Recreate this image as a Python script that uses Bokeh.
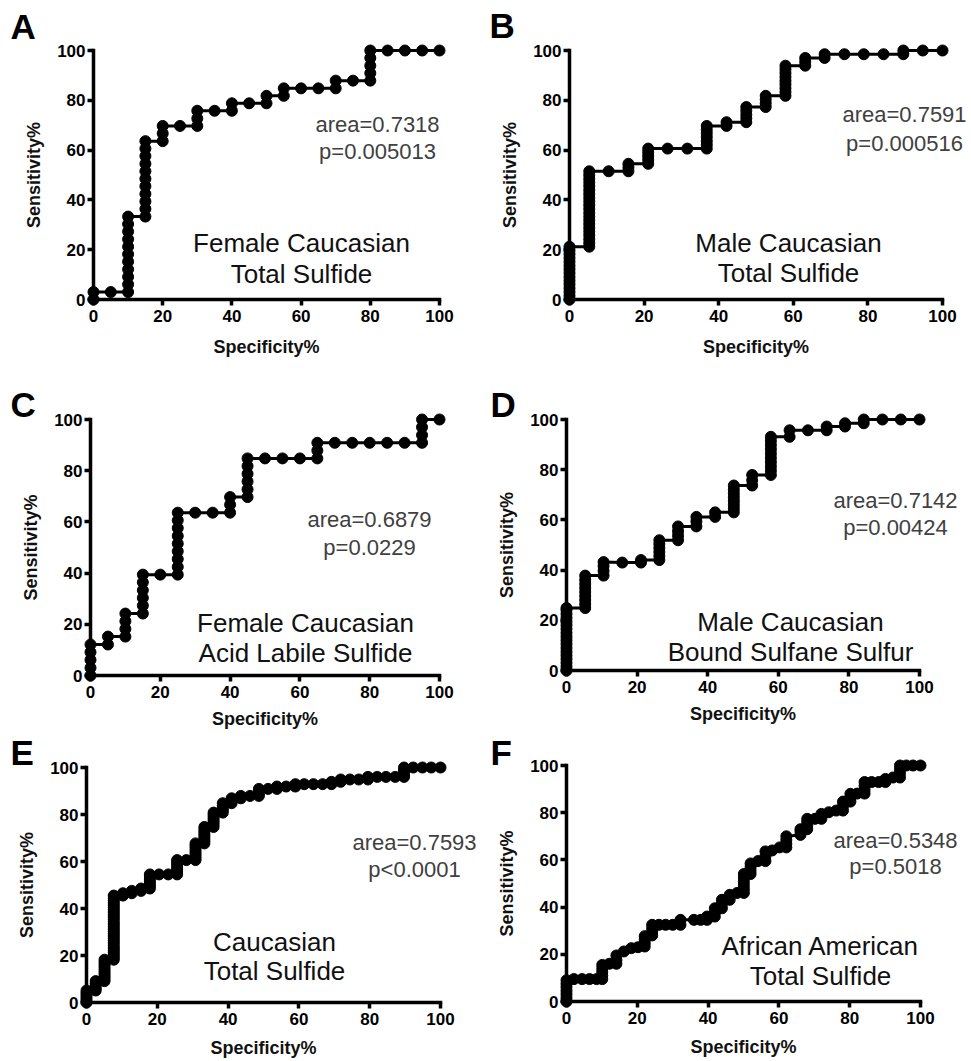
from bokeh.plotting import figure
from bokeh.models import Range1d, LinearAxis, Label, FixedTicker
from bokeh.layouts import column, row
from bokeh.embed import file_html
from bokeh.resources import INLINE

# ---------------- data (Specificity%, Sensitivity%) ----------------
a_spec = [0, 0, 5, 10, 10, 10, 10, 10, 10, 10, 10, 10, 10, 10,
          15, 15, 15, 15, 15, 15, 15, 15, 15, 15, 15, 20, 20, 20, 25,
          30, 30, 30, 35, 40, 40, 45, 50, 50, 55, 55, 60, 65, 70, 70, 75,
          80, 80, 80, 80, 80, 85, 90, 95, 100]
a_sens = [0, 3.0, 3.0, 3.0, 6.1, 9.1, 12.1, 15.2, 18.2, 21.2, 24.2, 27.3, 30.3, 33.3,
          33.3, 36.4, 39.4, 42.4, 45.5, 48.5, 51.5, 54.5, 57.6, 60.6, 63.6, 63.6, 66.7, 69.7, 69.7,
          69.7, 72.7, 75.8, 75.8, 75.8, 78.8, 78.8, 78.8, 81.8, 81.8, 84.8, 84.8, 84.8, 84.8, 87.9, 87.9,
          87.9, 90.9, 93.9, 97.0, 100, 100, 100, 100, 100]

b_spec = [0] * 15 + [5.3] * 21 + [10.5] + [15.8] * 3 + [21.1] * 5 + [26.3, 31.6] + [36.8] * 7 + \
         [42.1] * 2 + [47.4] * 5 + [52.6] * 4 + [57.9] * 9 + [63.2] * 3 + [68.4] * 2 + \
         [73.7, 78.9, 84.2] + [89.5] * 2 + [94.7, 100]
b_sens = [0, 1.5, 3.0, 4.5, 6.1, 7.6, 9.1, 10.6, 12.1, 13.6, 15.2, 16.7, 18.2, 19.7, 21.2,
          21.2, 22.7, 24.2, 25.8, 27.3, 28.8, 30.3, 31.8, 33.3, 34.8, 36.4, 37.9, 39.4, 40.9, 42.4,
          43.9, 45.5, 47.0, 48.5, 50.0, 51.5,
          51.5,
          51.5, 53.0, 54.5,
          54.5, 56.1, 57.6, 59.1, 60.6,
          60.6, 60.6,
          60.6, 62.1, 63.6, 65.2, 66.7, 68.2, 69.7,
          69.7, 71.2,
          71.2, 72.7, 74.2, 75.8, 77.3,
          77.3, 78.8, 80.3, 81.8,
          81.8, 83.3, 84.8, 86.4, 87.9, 89.4, 90.9, 92.4, 93.9,
          93.9, 95.5, 97.0,
          97.0, 98.5,
          98.5, 98.5, 98.5,
          98.5, 100,
          100, 100]

c_spec = [0] * 5 + [5] * 2 + [10] * 4 + [15] * 6 + [20] + [25] * 9 + [30, 35] + [40] * 3 + \
         [45] * 6 + [50, 55, 60] + [65] * 3 + [70, 75, 80, 85, 90] + [95] * 4 + [100]
c_sens = [0, 3.0, 6.1, 9.1, 12.1,
          12.1, 15.2,
          15.2, 18.2, 21.2, 24.2,
          24.2, 27.3, 30.3, 33.3, 36.4, 39.4,
          39.4,
          39.4, 42.4, 45.5, 48.5, 51.5, 54.5, 57.6, 60.6, 63.6,
          63.6, 63.6,
          63.6, 66.7, 69.7,
          69.7, 72.7, 75.8, 78.8, 81.8, 84.8,
          84.8, 84.8, 84.8,
          84.8, 87.9, 90.9,
          90.9, 90.9, 90.9, 90.9, 90.9,
          90.9, 93.9, 97.0, 100,
          100]

d_spec = [0] * 18 + [5.3] * 9 + [10.5] * 4 + [15.8] + [21.1] * 2 + [26.3] * 6 + [31.6] * 4 + \
         [36.8] * 3 + [42.1] * 2 + [47.4] * 8 + [52.6] * 3 + [57.9] * 10 + [63.2] * 2 + [68.4] + \
         [73.7] * 2 + [78.9] * 2 + [84.2] * 2 + [89.5, 94.7, 100]
d_sens = [0, 1.5, 3.0, 4.5, 6.0, 7.5, 9.0, 10.5, 12.0, 13.5, 15.0, 16.5, 18.0, 19.5, 21.0, 22.5, 24.0, 24.9,
          24.9, 26.5, 28.1, 29.7, 31.3, 32.9, 34.5, 36.1, 37.8,
          37.8, 39.7, 41.6, 43.2,
          43.0,
          43.0, 44.0,
          44.0, 45.6, 47.2, 48.8, 50.4, 51.9,
          51.9, 53.7, 55.5, 57.4,
          57.4, 59.4, 61.2,
          61.2, 63.0,
          63.0, 64.5, 66.0, 67.5, 69.0, 70.5, 72.1, 73.7,
          73.7, 75.8, 77.9,
          77.9, 79.6, 81.3, 83.0, 84.7, 86.4, 88.1, 89.8, 91.5, 93.1,
          93.1, 95.7,
          95.7,
          95.7, 97.2,
          97.2, 98.5,
          98.5, 100,
          100, 100, 100]

e_spec = [0] * 6 + [2.6] * 5 + [5.1] * 10 + [7.7] * 28 + [10.3] * 2 + [12.8] * 2 + [15.4] * 2 + \
         [17.9] * 7 + [20.5, 23.1] + [25.6] * 7 + [28.2] + [30.8] * 8 + [33.3] * 8 + [35.9] * 7 + \
         [38.5] * 5 + [41.0] * 3 + [43.6] * 2 + [46.2] + [48.7] * 4 + [51.3] + [53.8] * 2 + [56.4] + \
         [59.0] * 2 + [61.5, 64.1, 66.7] + [69.2] * 2 + [71.8] * 2 + [74.4, 76.9] + [79.5] * 2 + \
         [82.1, 84.6, 87.2] + [89.7] * 5 + [92.3, 94.9, 97.4, 100]
e_sens = [0, 1.0, 2.0, 3.0, 4.0, 5.1,
          5.1, 6.1, 7.1, 8.1, 9.1,
          9.1, 10.1, 11.1, 12.1, 13.1, 14.1, 15.2, 16.2, 17.2, 18.2,
          18.2, 19.2, 20.2, 21.2, 22.2, 23.2, 24.2, 25.3, 26.3, 27.3, 28.3, 29.3, 30.3, 31.3,
          32.3, 33.3, 34.3, 35.4, 36.4, 37.4, 38.4, 39.4, 40.4, 41.4, 42.4, 43.4, 44.4, 45.5,
          45.5, 46.5,
          46.5, 47.5,
          47.5, 48.5,
          48.5, 49.5, 50.5, 51.5, 52.5, 53.5, 54.5,
          54.5, 54.5,
          54.5, 55.6, 56.6, 57.6, 58.6, 59.6, 60.6,
          60.6,
          60.6, 61.6, 62.6, 63.6, 64.6, 65.7, 66.7, 67.7,
          67.7, 68.7, 69.7, 70.7, 71.7, 72.7, 73.7, 74.7,
          74.7, 75.8, 76.8, 77.8, 78.8, 79.8, 80.8,
          80.8, 81.8, 82.8, 83.8, 84.8,
          84.8, 85.9, 86.9,
          86.9, 87.9,
          87.9,
          87.9, 88.9, 89.9, 90.9,
          90.9,
          90.9, 91.9,
          91.9,
          91.9, 92.9,
          92.9, 92.9, 92.9,
          92.9, 93.9,
          93.9, 94.9,
          94.9, 94.9,
          94.9, 96.0,
          96.0, 96.0, 96.0,
          96.0, 97.0, 98.0, 99.0, 100,
          100, 100, 100, 100]

f_spec = [0] * 7 + [2.1, 4.4, 6.5, 8.5] + [10.1] * 5 + [12.1] + [14.1] * 3 + [16.2, 18.3, 20.2] + \
         [22.1] * 4 + [24.2] * 4 + [26.1, 28.0, 30.0] + [32.2] * 2 + [36.0, 37.9] + [39.7] * 2 + \
         [41.9] * 3 + [43.9] * 3 + [46.1] * 2 + [48.2] + [50.1] * 6 + [52.0] * 4 + [54.1] + \
         [56.2] * 3 + [58.1, 60.2] + [62.1] * 4 + [66.1] * 3 + [68.0] * 4 + [70.2] + [72.0] * 2 + \
         [74.1, 76.2] + [78.1] * 3 + [80.2] * 3 + [82.1] + [84.2] * 4 + [86.2, 88.2] + [90.1] * 2 + \
         [92.2] + [94.2] * 4 + [96.0, 97.9, 100]
f_sens = [0, 1.5, 3.0, 4.5, 6.0, 7.5, 9.0,
          9.5, 9.5, 9.5, 9.5,
          9.5, 11.0, 12.5, 14.0, 15.5,
          16.0,
          16.0, 17.5, 19.5,
          21.2, 22.6, 23.0,
          23.3, 24.8, 26.3, 27.7,
          28.0, 29.5, 31.0, 32.5,
          32.5, 32.5, 32.5,
          32.5, 34.6,
          34.6, 34.6,
          34.6, 36.0,
          36.0, 37.7, 39.5,
          39.5, 41.3, 43.1,
          43.1, 45.2,
          46.0,
          46.0, 47.6, 49.2, 50.8, 52.4, 54.0,
          54.0, 55.5, 57.0, 58.5,
          59.5,
          59.5, 61.5, 63.6,
          64.0, 65.3,
          65.3, 66.8, 68.4, 70.0,
          70.6, 72.0, 73.0,
          73.0, 74.5, 76.0, 77.4,
          77.4,
          77.4, 79.5,
          80.2, 80.9,
          80.9, 82.8, 84.7,
          84.7, 86.4, 88.0,
          88.1,
          88.1, 89.7, 91.4, 93.0,
          93.0, 93.0,
          93.0, 94.3,
          94.9,
          94.9, 96.6, 98.3, 100,
          100, 100, 100]

letters = ["A", "B", "C", "D", "E", "F"]
stat_area = ["area=0.7318", "area=0.7591", "area=0.6879", "area=0.7142", "area=0.7593", "area=0.5348"]
stat_p = ["p=0.005013", "p=0.000516", "p=0.0229", "p=0.00424", "p<0.0001", "p=0.5018"]
group_line1 = ["Female Caucasian", "Male Caucasian", "Female Caucasian", "Male Caucasian",
               "Caucasian", "African American"]
group_line2 = ["Total Sulfide", "Total Sulfide", "Acid Labile Sulfide", "Bound Sulfane Sulfur",
               "Total Sulfide", "Total Sulfide"]
x_ticks = [0, 20, 40, 60, 80, 100]
y_ticks = [0, 20, 40, 60, 80, 100]
x_label = "Specificity%"
y_label = "Sensitivity%"

# ---------------- layout geometry (page pixels) ----------------
COLS = [0, 480, 970]
ROWS = [0, 375, 733, 1060]
XLAB_STANDOFF = [12, 8, 10]
# pixel of x=0, x=100, y=0, y=100 for each panel
GEOM = [(93, 439, 299, 50), (569, 942, 299, 50),
        (90, 439, 675, 419), (566, 919, 670, 419),
        (86, 440, 1002, 767), (566, 920, 1001, 765)]
# annotation anchors in page pixels: letter (left, baseline), stats (center, baseline1, baseline2),
# group text (center, baseline1, baseline2)
LETTER_PX = [(10, 39), (489, 38), (10, 417), (490, 417), (10, 765), (490, 765)]
STAT_PX = [(377, 132, 159), (904, 122, 151), (369, 527, 555),
           (895, 508, 535), (414, 850, 877), (895, 848, 874)]
GROUP_PX = [(301, 252, 283), (788, 252, 282), (305, 632, 662),
            (790, 631, 661), (274, 951, 980), (820, 955, 985)]

SPECS = [a_spec, b_spec, c_spec, d_spec, e_spec, f_spec]
SENS = [a_sens, b_sens, c_sens, d_sens, e_sens, f_sens]

FONT = "Liberation Sans"
LETTER_SIZE, STAT_SIZE, GROUP_SIZE = 35, 22, 26
CAP = 0.716  # cap height / font size


def make_panel(i):
    ci, ri = i % 2, i // 2
    fx, W = COLS[ci], COLS[ci + 1] - COLS[ci]
    fy, H = ROWS[ri], ROWS[ri + 1] - ROWS[ri]
    x0, x100, y0, y100 = GEOM[i]
    sx = (x100 - x0) / 100.0
    sy = (y0 - y100) / 100.0

    def dx(px):
        return (px - x0) / sx

    def dy(py):
        return (y0 - py) / sy

    def mid(baseline, size):
        # vertical centre of capitals for a given baseline
        return dy(baseline - CAP * size / 2.0)

    p = figure(frame_width=W, frame_height=H,
               min_border_left=0, min_border_right=0,
               min_border_top=0, min_border_bottom=0,
               x_range=Range1d(dx(fx), dx(fx + W)),
               y_range=Range1d(dy(fy + H), dy(fy)),
               x_axis_type=None, y_axis_type=None,
               toolbar_location=None, output_backend="svg",
               outline_line_color=None, background_fill_color="white",
               border_fill_color="white")

    def style(ax, lab_standoff, tick_standoff):
        ax.axis_line_width = 3.5
        ax.axis_line_color = "black"
        ax.axis_line_cap = "square"
        ax.major_tick_line_width = 3.5
        ax.major_tick_line_color = "black"
        ax.major_tick_out = 6
        ax.major_tick_in = 0
        ax.minor_tick_line_color = None
        ax.major_label_text_font = FONT
        ax.major_label_text_font_style = "bold"
        ax.major_label_text_font_size = "17px"
        ax.major_label_text_color = "black"
        ax.major_label_standoff = tick_standoff
        ax.axis_label_text_font = FONT
        ax.axis_label_text_font_style = "bold"
        ax.axis_label_text_font_size = "18px"
        ax.axis_label_text_color = "#111111"
        ax.axis_label_standoff = lab_standoff

    xa = LinearAxis(fixed_location=0, bounds=(0, 100),
                    ticker=FixedTicker(ticks=x_ticks), axis_label=x_label)
    style(xa, XLAB_STANDOFF[ri], 4)
    p.add_layout(xa, "below")
    ya = LinearAxis(fixed_location=0, bounds=(0, 100),
                    ticker=FixedTicker(ticks=y_ticks), axis_label=y_label)
    style(ya, 10, 2)
    p.add_layout(ya, "left")

    p.line(SPECS[i], SENS[i], line_width=3, line_color="black")
    p.scatter(SPECS[i], SENS[i], size=11, fill_color="black", line_color="black")

    lx, ly = LETTER_PX[i]
    p.add_layout(Label(x=dx(lx), y=mid(ly, LETTER_SIZE), text=letters[i], text_align="left",
                       text_baseline="middle", text_font=FONT,
                       text_font_style="bold", text_font_size=f"{LETTER_SIZE}px",
                       text_color="black"))
    scx, sb1, sb2 = STAT_PX[i]
    for t, yy in ((stat_area[i], sb1), (stat_p[i], sb2)):
        p.add_layout(Label(x=dx(scx), y=mid(yy, STAT_SIZE), text=t, text_align="center",
                           text_baseline="middle", text_font=FONT,
                           text_font_size=f"{STAT_SIZE}px", text_color="#404040"))
    gcx, gb1, gb2 = GROUP_PX[i]
    for t, yy in ((group_line1[i], gb1), (group_line2[i], gb2)):
        p.add_layout(Label(x=dx(gcx), y=mid(yy, GROUP_SIZE), text=t, text_align="center",
                           text_baseline="middle", text_font=FONT,
                           text_font_size=f"{GROUP_SIZE}px", text_color="#111111"))
    return p


panels = [make_panel(i) for i in range(6)]
layout = column(row(panels[0], panels[1]), row(panels[2], panels[3]),
                row(panels[4], panels[5]))

open("out.html", "w").write(file_html(layout, INLINE))
